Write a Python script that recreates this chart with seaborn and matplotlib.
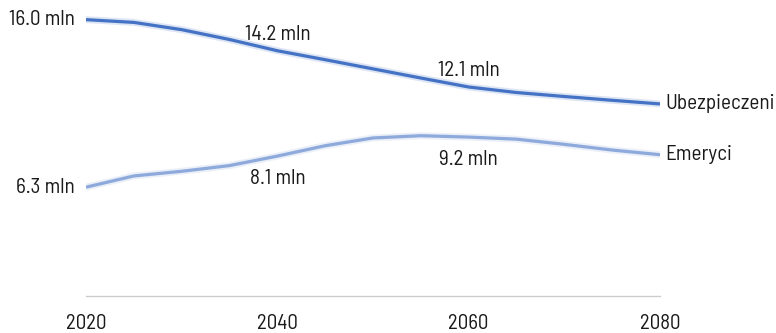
import matplotlib
matplotlib.use("Agg")
import matplotlib.pyplot as plt
import matplotlib.patheffects as pe
import seaborn as sns
import pandas as pd

years = [2020, 2025, 2030, 2035, 2040, 2045, 2050, 2055, 2060, 2065, 2070, 2075, 2080]
ubezpieczeni = [16.0, 15.84, 15.42, 14.85, 14.2, 13.68, 13.15, 12.62, 12.1, 11.78, 11.55, 11.33, 11.12]
emeryci = [6.3, 6.95, 7.22, 7.55, 8.1, 8.7, 9.15, 9.28, 9.2, 9.08, 8.78, 8.45, 8.18]
series_names = ["Ubezpieczeni", "Emeryci"]
series_colors = ["#4472C4", "#8EA9DB"]
x_ticks = [2020, 2040, 2060, 2080]
labelled_years = [2040, 2060]

df = pd.DataFrame({
    "rok": years * 2,
    "wartosc": ubezpieczeni + emeryci,
    "seria": [series_names[0]] * len(years) + [series_names[1]] * len(years),
})

sns.set_theme(style="white")
plt.rcParams["font.family"] = ["Barlow Semi Condensed", "DejaVu Sans"]
text_color = "#1a1a1a"

fig = plt.figure(figsize=(7.76, 3.33), dpi=100)
ax = fig.add_axes([86 / 776, 1 - 296 / 333, (660 - 86) / 776, (296 - 11) / 333])

sns.lineplot(data=df, x="rok", y="wartosc", hue="seria", palette=series_colors,
             hue_order=series_names, linewidth=2.3, legend=False, ax=ax)
for line in ax.lines:
    line.set_path_effects([pe.Stroke(linewidth=5, foreground=line.get_color(), alpha=0.18),
                           pe.Normal()])
    line.set_solid_capstyle("butt")

ax.set_xlim(2020, 2080)
ax.set_ylim(0, 16.5)
ax.set_xlabel("")
ax.set_ylabel("")
ax.set_yticks([])
ax.set_xticks(x_ticks)
ax.set_xticklabels([str(t) for t in x_ticks])
ax.tick_params(axis="x", length=0, pad=13, labelsize=15, labelcolor=text_color)
for side in ["top", "left", "right"]:
    ax.spines[side].set_visible(False)
ax.spines["bottom"].set_color("#cccccc")
ax.spines["bottom"].set_linewidth(1.0)

fs = 15.2
values = {series_names[0]: ubezpieczeni, series_names[1]: emeryci}

# start values, to the left of the first point
for name in series_names:
    v = values[name][0]
    ax.annotate(f"{v:.1f} mln", xy=(years[0], v), xytext=(-8, 0), textcoords="offset points",
                ha="right", va="center", fontsize=fs, color=text_color, annotation_clip=False)

# mid-line values: above the upper series, below the lower one
for yr in labelled_years:
    i = years.index(yr)
    v = ubezpieczeni[i]
    ax.annotate(f"{v:.1f} mln", xy=(yr, v), xytext=(0, 5), textcoords="offset points",
                ha="center", va="bottom", fontsize=fs, color=text_color)
    v = emeryci[i]
    ax.annotate(f"{v:.1f} mln", xy=(yr, v), xytext=(0, -9), textcoords="offset points",
                ha="center", va="top", fontsize=fs, color=text_color)

# series names at the line ends
for name in series_names:
    v = values[name][-1]
    ax.annotate(name, xy=(years[-1], v), xytext=(4, 0), textcoords="offset points",
                ha="left", va="center", fontsize=fs, color=text_color, annotation_clip=False)

fig.savefig("out.png", dpi=100)
